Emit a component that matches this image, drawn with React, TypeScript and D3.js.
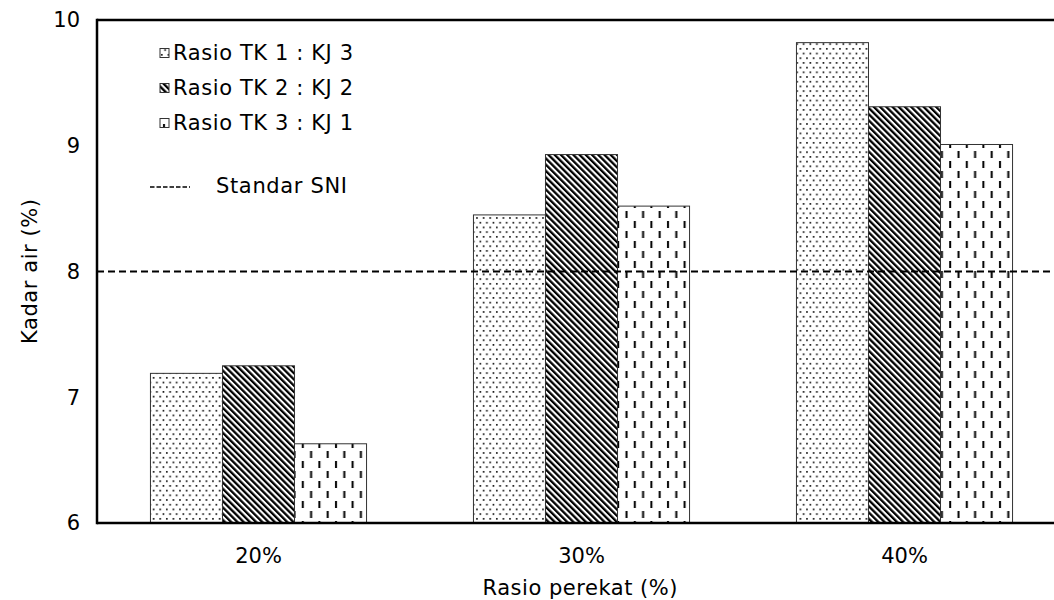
import React from "react";
import * as d3 from "d3";

const categories = ["20%", "30%", "40%"];
const seriesNames = ["Rasio TK 1 : KJ 3", "Rasio TK 2 : KJ 2", "Rasio TK 3 : KJ 1"];
const seriesTK1 = [7.19, 8.45, 9.82];
const seriesTK2 = [7.25, 8.93, 9.31];
const seriesTK3 = [6.63, 8.52, 9.01];
const yTicks = [6, 7, 8, 9, 10];
const standardSNI = 8;

const W = 1054;
const H = 600;
const margin = { left: 97, top: 20, bottom: 77 };
const fontFamily = "'DejaVu Sans', Verdana, sans-serif";
const FS = 21;

export default function App() {
  const x = d3
    .scaleBand<string>()
    .domain(categories)
    .range([margin.left, margin.left + 3 * 323])
    .paddingInner(0.331)
    .paddingOuter(0.1655);
  const inner = d3
    .scaleBand<number>()
    .domain([0, 1, 2])
    .range([0, x.bandwidth()]);
  const y = d3.scaleLinear().domain([6, 10]).range([H - margin.bottom, margin.top]);
  const series = [seriesTK1, seriesTK2, seriesTK3];
  const fills = ["url(#dots)", "url(#stripes)", "url(#dashes)"];
  const plotBottom = y(6);
  const plotTop = y(10);

  return (
    <svg
      width={W}
      height={H}
      style={{ position: "absolute", left: 0, top: 0, background: "#fff" }}
      fontFamily={fontFamily}
    >
      <defs>
        <pattern id="dots" width="6.6" height="9.4" patternUnits="userSpaceOnUse">
          <rect width="6.6" height="9.4" fill="#fff" />
          <rect x="1" y="1" width="1.6" height="1.6" fill="#000" />
          <rect x="4.3" y="5.7" width="1.6" height="1.6" fill="#000" />
        </pattern>
        <pattern
          id="stripes"
          width="4.4"
          height="10"
          patternUnits="userSpaceOnUse"
          patternTransform="rotate(-45)"
        >
          <rect width="4.4" height="10" fill="#fff" />
          <rect width="2.3" height="10" fill="#000" />
        </pattern>
        <pattern id="dashes" width="16.6" height="20" patternUnits="userSpaceOnUse">
          <rect width="16.6" height="20" fill="#fff" />
          <rect x="3" y="1" width="2" height="7" fill="#000" />
          <rect x="11.3" y="11" width="2" height="7" fill="#000" />
        </pattern>
      </defs>

      {categories.map((c, ci) => (
        <g key={c}>
          {series.map((s, si) => (
            <rect
              key={si}
              x={(x(c) as number) + (inner(si) as number)}
              y={y(s[ci])}
              width={inner.bandwidth()}
              height={plotBottom - y(s[ci])}
              fill={fills[si]}
              stroke="#333"
              strokeWidth={1}
            />
          ))}
        </g>
      ))}

      <line
        x1={margin.left}
        x2={W}
        y1={y(standardSNI)}
        y2={y(standardSNI)}
        stroke="#000"
        strokeWidth={2}
        strokeDasharray="7,4"
      />

      <line x1={margin.left} x2={W} y1={plotTop} y2={plotTop} stroke="#000" strokeWidth={2.5} />
      <line x1={margin.left} x2={W} y1={plotBottom} y2={plotBottom} stroke="#000" strokeWidth={2.5} />
      <line x1={margin.left} x2={margin.left} y1={plotTop - 1.2} y2={plotBottom + 1.2} stroke="#000" strokeWidth={2.5} />

      {yTicks.map((t) => (
        <text key={t} x={80} y={y(t)} dy="0.35em" textAnchor="end" fontSize={FS} fill="#000">
          {t}
        </text>
      ))}

      {categories.map((c) => (
        <text
          key={c}
          x={(x(c) as number) + x.bandwidth() / 2}
          y={556}
          dy="0.35em"
          textAnchor="middle"
          fontSize={FS}
          fill="#000"
        >
          {c}
        </text>
      ))}

      <text
        x={580}
        y={588}
        dy="0.35em"
        textAnchor="middle"
        fontSize={FS}
        fill="#000"
        textLength={195}
        lengthAdjust="spacing"
      >
        Rasio perekat (%)
      </text>
      <text
        transform={`translate(30, ${(plotTop + plotBottom) / 2}) rotate(-90)`}
        dy="0.35em"
        textAnchor="middle"
        fontSize={FS}
        fill="#000"
        textLength={145}
        lengthAdjust="spacing"
      >
        Kadar air (%)
      </text>

      {seriesNames.map((n, i) => (
        <g key={n} transform={`translate(160, ${53 + i * 35})`}>
          <rect x={0} y={-4.5} width={9} height={9} fill={fills[i]} stroke="#333" strokeWidth={1} />
          <text x={13} y={0} dy="0.35em" fontSize={FS} fill="#000" textLength={180} lengthAdjust="spacing">
            {n}
          </text>
        </g>
      ))}
      <line x1={150} x2={190} y1={187} y2={187} stroke="#000" strokeWidth={1.5} strokeDasharray="4.5,2" />
      <text x={216} y={186} dy="0.35em" fontSize={FS} fill="#000" textLength={131} lengthAdjust="spacing">
        Standar SNI
      </text>
    </svg>
  );
}
